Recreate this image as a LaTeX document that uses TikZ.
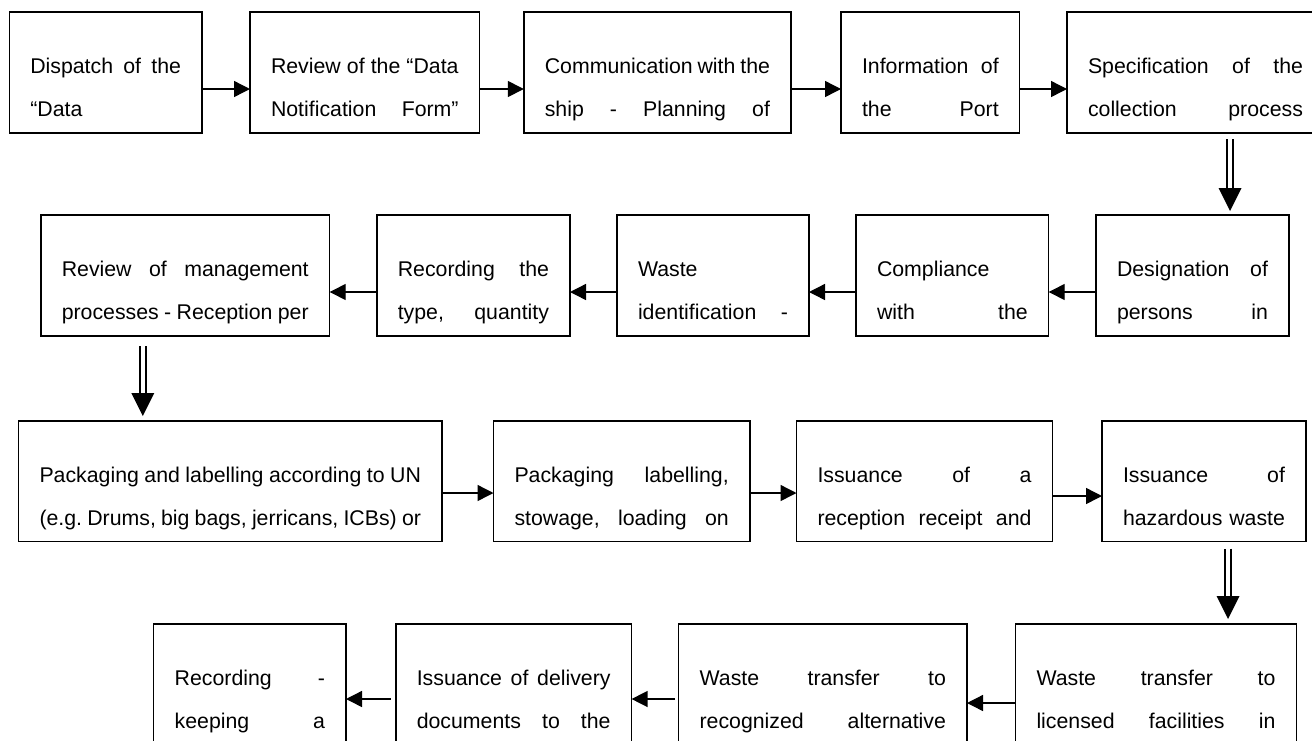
\documentclass[tikz,border=0pt]{standalone}
\usepackage{fontspec}
\setmainfont{Liberation Sans}
\usetikzlibrary{arrows.meta,calc}
\tikzset{
  bx/.style={draw=black, line width=1.4pt, inner sep=0pt, outer sep=0pt, rectangle},
  tl/.style={anchor=base west, inner sep=0pt, outer sep=0pt, font=\fontsize{21.3}{24}\selectfont},
  arr/.style={draw=black, line width=1.4pt, -{Triangle[length=16pt,width=16pt]}},
  dbl/.style={draw=black, double=white, double distance=4.5pt, line width=1.7pt},
  head/.style={fill=black}
}
\newcommand\mkbox[7]{%
  \node[bx, minimum width={#4-#2}, minimum height={#5-#3}] (#1) at ({(#2+#4)/2},{(#3+#5)/2}) {};
  \node[tl] (#1t) at ($(#1.north west)+(21,61)$) {\hbox to \dimexpr #4pt-#2pt-42pt\relax{#6}};
  \node[tl] (#1b) at ($(#1.north west)+(21,104)$) {\hbox to \dimexpr #4pt-#2pt-42pt\relax{#7}};
}
\newcommand\dblarrow[2]{%
  \draw[dbl] (#1) -- ($(#2)+(0,-23)$);
  \fill[head] (#2) -- ++(-11.5,-23) -- ++(23,0) -- cycle;
}
\begin{document}
\begin{tikzpicture}[x=1pt, y=-1pt]
\useasboundingbox (0,0) rectangle (1312,740);
\fill[white] (0,0) rectangle (1312,740);
\clip (0,0) rectangle (1312,740);
% Row 1
\mkbox{r1a}{9.3}{12}{202}{133}{Dispatch\hfill of\hfill the}{“Data\hfill}
\mkbox{r1b}{250}{12}{479.6}{133}{Review\hfill of\hfill the\hfill “Data}{Notification\hfill Form”}
\mkbox{r1c}{523.8}{12}{791}{133}{Communication\hfill with\hfill the}{ship\hfill -\hfill Planning\hfill of}
\mkbox{r1d}{841}{12}{1019.7}{133}{Information\hfill of}{the\hfill Port}
\mkbox{r1e}{1067}{12}{1324}{133}{Specification\hfill of\hfill the}{collection\hfill process}
% Row 2
\mkbox{r2e}{1096}{215}{1289}{336}{Designation\hfill of}{persons\hfill in}
\mkbox{r2d}{856}{215}{1048.7}{336}{Compliance\hfill}{with\hfill the}
\mkbox{r2c}{617}{215}{809}{336}{Waste\hfill}{identification\hfill -}
\mkbox{r2b}{376.8}{215}{570}{336}{Recording\hfill the}{type,\hfill quantity}
\mkbox{r2a}{40.8}{215}{329.7}{336}{Review\hfill of\hfill management}{processes\hfill -\hfill Reception\hfill per}
% Row 3
\mkbox{r3a}{18.5}{421}{442}{541.5}{Packaging\hfill and\hfill labelling\hfill according\hfill to\hfill UN}{(e.g.\hfill Drums,\hfill big\hfill bags,\hfill jerricans,\hfill ICBs)\hfill or}
\mkbox{r3b}{493.5}{421}{749.8}{541.5}{Packaging\hfill labelling,}{stowage,\hfill loading\hfill on}
\mkbox{r3c}{796.5}{421}{1052.5}{541.5}{Issuance\hfill of\hfill a}{reception\hfill receipt\hfill and}
\mkbox{r3d}{1102}{421}{1306}{541.5}{Issuance\hfill of}{hazardous\hfill waste}
% Row 4
\mkbox{r4a}{1015.5}{624}{1296.5}{746}{Waste\hfill transfer\hfill to}{licensed\hfill facilities\hfill in}
\mkbox{r4b}{678.6}{624}{967}{746}{Waste\hfill transfer\hfill to}{recognized\hfill alternative}
\mkbox{r4c}{395.8}{624}{631.6}{746}{Issuance\hfill of\hfill delivery}{documents\hfill to\hfill the}
\mkbox{r4d}{153.7}{624}{346}{746}{Recording\hfill -}{keeping\hfill a}
% Row 1 arrows
\path ($(r1a.north east)+(0,77)$) coordinate (a1);
\draw[arr] (a1) -- (a1 -| r1b.west);
\path ($(r1b.north east)+(0,77)$) coordinate (a2);
\draw[arr] (a2) -- (a2 -| r1c.west);
\path ($(r1c.north east)+(0,77)$) coordinate (a3);
\draw[arr] (a3) -- (a3 -| r1d.west);
\path ($(r1d.north east)+(0,77)$) coordinate (a4);
\draw[arr] (a4) -- (a4 -| r1e.west);
% Row 2 arrows
\path ($(r2e.north west)+(0,77)$) coordinate (b1);
\draw[arr] (b1) -- (b1 -| r2d.east);
\path ($(r2d.north west)+(0,77)$) coordinate (b2);
\draw[arr] (b2) -- (b2 -| r2c.east);
\path ($(r2c.north west)+(0,77)$) coordinate (b3);
\draw[arr] (b3) -- (b3 -| r2b.east);
\path ($(r2b.north west)+(0,77)$) coordinate (b4);
\draw[arr] (b4) -- (b4 -| r2a.east);
% Row 3 arrows
\path ($(r3a.north east)+(0,72)$) coordinate (c1);
\draw[arr] (c1) -- (c1 -| r3b.west);
\path ($(r3b.north east)+(0,72)$) coordinate (c2);
\draw[arr] (c2) -- (c2 -| r3c.west);
\path ($(r3c.north east)+(0,75)$) coordinate (c3);
\draw[arr] (c3) -- (c3 -| r3d.west);
% Row 4 arrows
\path ($(r4a.north west)+(0,79)$) coordinate (e1);
\draw[arr] (e1) -- (e1 -| r4b.east);
\path ($(r4b.north west)+(-3.5,75)$) coordinate (e2);
\draw[arr] (e2) -- (e2 -| r4c.east);
\path ($(r4c.north west)+(-5,75)$) coordinate (e3);
\draw[arr] (e3) -- (e3 -| r4d.east);
% Double arrows between rows
\path ($(r1e.south west)+(163,6)$) coordinate (d1s);
\path (d1s |- r2e.north) ++(0,-4) coordinate (d1e);
\dblarrow{d1s}{d1e}
\path ($(r2a.south west)+(102,10)$) coordinate (d2s);
\path (d2s |- r3a.north) ++(0,-5) coordinate (d2e);
\dblarrow{d2s}{d2e}
\path ($(r3d.south west)+(126,7)$) coordinate (d3s);
\path (d3s |- r4a.north) ++(0,-5) coordinate (d3e);
\dblarrow{d3s}{d3e}
\end{tikzpicture}
\end{document}
